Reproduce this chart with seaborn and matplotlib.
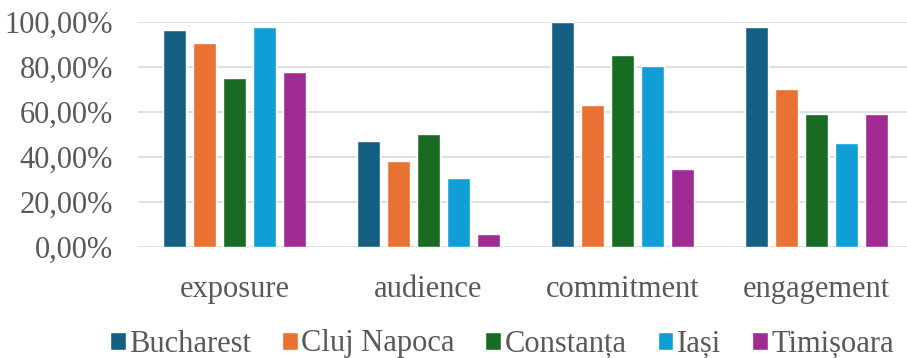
import matplotlib
matplotlib.use("Agg")
import matplotlib.pyplot as plt
import pandas as pd
import seaborn as sns

# Share of each dimension per city
categories = ["exposure", "audience", "commitment", "engagement"]
cities = ["Bucharest", "Cluj Napoca", "Constanța", "Iași", "Timișoara"]
bucharest = [0.967, 0.473, 1.000, 0.979]
cluj_napoca = [0.910, 0.384, 0.633, 0.702]
constanta = [0.751, 0.501, 0.855, 0.594]
iasi = [0.979, 0.305, 0.804, 0.464]
timisoara = [0.781, 0.056, 0.345, 0.590]
palette = ["#156082", "#E97132", "#196B24", "#0F9ED5", "#A02B93"]
y_ticks = [0.0, 0.2, 0.4, 0.6, 0.8, 1.0]
y_tick_labels = ["0,00%", "20,00%", "40,00%", "60,00%", "80,00%", "100,00%"]

series = [bucharest, cluj_napoca, constanta, iasi, timisoara]
df = pd.DataFrame(
    [
        {"category": cat, "city": city, "value": vals[i]}
        for city, vals in zip(cities, series)
        for i, cat in enumerate(categories)
    ]
)

sns.set_theme(style="white")
plt.rcParams["font.family"] = ["Liberation Serif", "DejaVu Serif"]
text_color = "#595959"

fig = plt.figure(figsize=(9.07, 3.58), dpi=100)
ax = fig.add_axes([0.1516, 0.310, 0.8556, 0.6277])

sns.barplot(
    data=df, x="category", y="value", hue="city",
    order=categories, hue_order=cities, palette=palette,
    width=0.773, gap=0.233, saturation=1, errorbar=None, ax=ax,
)

ax.set_ylim(0, 1.0)
ax.set_xlim(-0.5, len(categories) - 0.5)
ax.set_yticks(y_ticks)
ax.set_yticklabels(y_tick_labels)
ax.yaxis.grid(True, color="#D9D9D9", linewidth=1.2)
ax.set_axisbelow(True)
for s in ax.spines.values():
    s.set_visible(False)
ax.tick_params(axis="y", length=0, pad=17.5, labelsize=22, labelcolor=text_color)
ax.tick_params(axis="x", length=0, pad=20, labelsize=22, labelcolor=text_color)
ax.set_xlabel("")
ax.set_ylabel("")

handles, labels = ax.get_legend_handles_labels()
ax.legend_.remove()
fig.legend(
    handles, labels, loc="center", bbox_to_anchor=(502 / 907, 1 - 344 / 358),
    ncol=5, frameon=False, fontsize=22, labelcolor=text_color,
    handlelength=0.52, handleheight=0.52, handletextpad=0.12,
    columnspacing=1.0, borderpad=0,
)

fig.savefig("out.png", dpi=100)
